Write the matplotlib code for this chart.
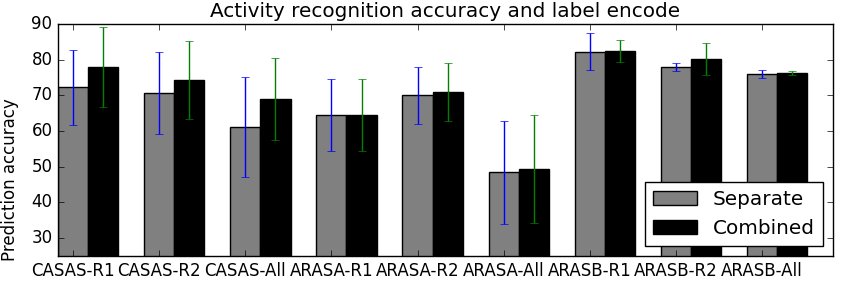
import numpy as np
import matplotlib
matplotlib.use("Agg")
import matplotlib.pyplot as plt

plt.style.use('classic')

labels = ['CASAS-R1', 'CASAS-R2', 'CASAS-All', 'ARASA-R1', 'ARASA-R2',
          'ARASA-All', 'ARASB-R1', 'ARASB-R2', 'ARASB-All']
separate = [72.3, 70.6, 61.2, 64.5, 70.0, 48.5, 82.2, 77.9, 75.9]
separate_err = [10.5, 11.5, 14.0, 10.1, 8.0, 14.4, 5.2, 1.2, 1.1]
combined = [78.0, 74.3, 69.0, 64.5, 71.0, 49.4, 82.4, 80.2, 76.3]
combined_err = [11.2, 10.8, 11.6, 10.2, 8.1, 15.2, 3.0, 4.6, 0.5]

ind = np.arange(len(labels))
width = 0.35

fig = plt.figure(figsize=(8.41, 2.83), dpi=100, facecolor='white')
ax = fig.add_axes([0.069, 0.0954, 0.9215, 0.8198])

ax.bar(ind, separate, width, color='0.5', edgecolor='k', align='center',
       yerr=separate_err, ecolor='b', capsize=3, label='Separate')
ax.bar(ind + width, combined, width, color='k', edgecolor='k', align='center',
       yerr=combined_err, ecolor='g', capsize=3, label='Combined')

ax.set_xticks(ind)
ax.set_xticklabels(labels, fontsize=12)
ax.tick_params(axis='y', labelsize=12)
ax.set_xlim(-0.175, 8.825)
ax.set_ylim(25, 90)
ax.set_yticks([30, 40, 50, 60, 70, 80, 90])
ax.set_ylabel('Prediction accuracy', fontsize=12)
ax.yaxis.set_label_coords(-0.05, 0.33)
ax.set_title('Activity recognition accuracy and label encode', fontsize=14.4)
ax.legend(loc='lower right', fontsize=14.4, fancybox=False, handlelength=2.2)

fig.savefig('out.png', dpi=100, facecolor='white')
